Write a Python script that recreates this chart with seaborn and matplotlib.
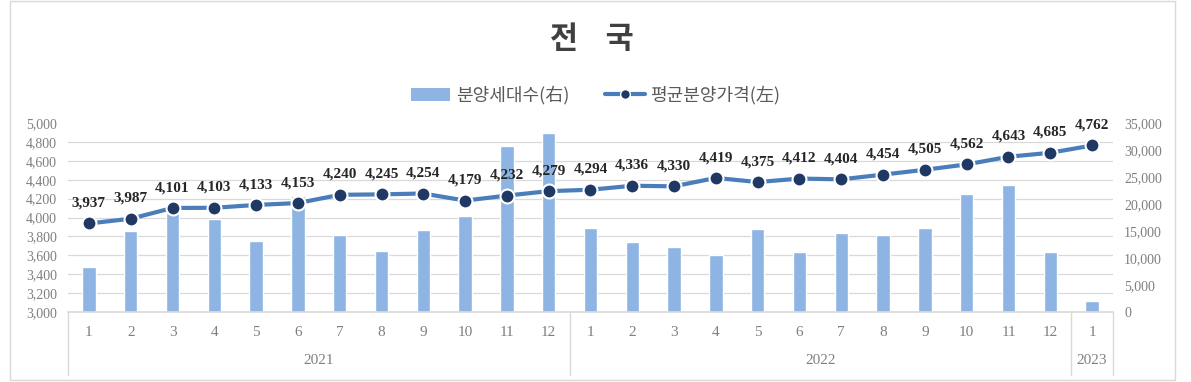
import numpy as np
import pandas as pd
import matplotlib
matplotlib.use('Agg')
import matplotlib.pyplot as plt
import matplotlib.transforms as mtransforms
from matplotlib.lines import Line2D
from matplotlib.patches import Patch, Rectangle
from matplotlib.ticker import FuncFormatter
import seaborn as sns

# 월 / 연도 (2021.1 ~ 2023.1)
months = ['1', '2', '3', '4', '5', '6', '7', '8', '9', '10', '11', '12',
          '1', '2', '3', '4', '5', '6', '7', '8', '9', '10', '11', '12',
          '1']
years = ['2021', '2022', '2023']
year_counts = [12, 12, 1]

# 평균분양가격(좌축)
price = [3937, 3987, 4101, 4103, 4133, 4153, 4240, 4245, 4254, 4179, 4232, 4279,
         4294, 4336, 4330, 4419, 4375, 4412, 4404, 4454, 4505, 4562, 4643, 4685,
         4762]

# 분양세대수(우축) - 그림에서 읽은 추정값
units = [8400, 15000, 18400, 17200, 13100, 21500, 14300, 11300, 15200, 17800, 30800, 33100,
         15600, 13000, 12100, 10500, 15400, 11200, 14700, 14300, 15600, 21800, 23500, 11200,
         2000]

df = pd.DataFrame({'idx': np.arange(len(months)), 'month': months,
                   'price': price, 'units': units})

sns.set_theme(style='white')
plt.rcParams['font.family'] = ['Liberation Serif', 'DejaVu Serif']
kr = ['Noto Sans CJK KR', 'DejaVu Sans']

bar_c = '#8db4e2'
line_c = '#4a7ebb'
mark_c = '#1f3864'
tick_c = '#7f7f7f'
grid_c = '#d9d9d9'

fig = plt.figure(figsize=(11.91, 3.82), dpi=100)
ax = fig.add_axes([0.0571, 0.1832, 0.8774, 0.4948])
ax2 = ax.twinx()

# 막대 (우축)
sns.barplot(data=df, x='idx', y='units', ax=ax2, color=bar_c, width=0.32,
            saturation=1, zorder=2)
ax2.set_ylim(0, 35000)
ax2.set_yticks(np.arange(0, 35001, 5000))
ax2.set_yticks(np.linspace(0, 35000, 11), minor=True)
ax2.yaxis.set_major_formatter(FuncFormatter(lambda v, p: f'{int(v):,}'))
ax2.grid(False)
ax2.grid(True, which='minor', axis='y', color=grid_c, lw=0.9)
ax2.set_axisbelow(True)
ax2.set_ylabel('')
ax2.tick_params(axis='y', which='both', length=0, pad=8, labelsize=10, colors=tick_c)

# 꺾은선 (좌축)
ax.set_zorder(ax2.get_zorder() + 1)
ax.patch.set_visible(False)
sns.lineplot(data=df, x='idx', y='price', ax=ax, color=line_c, lw=3,
             marker='o', markersize=10, markerfacecolor=mark_c,
             markeredgecolor='white', markeredgewidth=1.5)
ax.set_ylim(3000, 5000)
ax.set_yticks(np.arange(3000, 5001, 200))
ax.yaxis.set_major_formatter(FuncFormatter(lambda v, p: f'{int(v):,}'))
ax.set_xlim(-0.5, len(months) - 0.5)
ax.set_xticks(df['idx'])
ax.set_xticklabels(months)
ax.tick_params(axis='x', length=0, pad=10, labelsize=11, colors=tick_c)
ax.tick_params(axis='y', length=0, pad=8, labelsize=10, colors=tick_c)
ax.set_xlabel('')
ax.set_ylabel('')
ax.grid(False)
ax2.set_xlim(-0.5, len(months) - 0.5)

for a in (ax, ax2):
    for s in a.spines.values():
        s.set_visible(False)
ax.spines['bottom'].set_visible(True)
ax.spines['bottom'].set_color(grid_c)

for i, v in enumerate(price):
    ax.annotate(f'{v:,}', (i, v), xytext=(0, 10), textcoords='offset points',
                ha='center', va='bottom', fontsize=11, fontweight='bold',
                color='#262626')

# 연도 구분
trans = mtransforms.blended_transform_factory(ax.transData, ax.transAxes)
edges = np.concatenate([[0], np.cumsum(year_counts)]) - 0.5
for e in edges:
    ax.plot([e, e], [0, -0.335], transform=trans, color=grid_c, lw=1, clip_on=False)
for k, y in enumerate(years):
    ax.text((edges[k] + edges[k + 1]) / 2, -0.255, y, transform=trans,
            ha='center', va='center', fontsize=11, color=tick_c)

# 제목, 범례
fig.text(0.497, 0.898, '전    국', ha='center', va='center', fontsize=22,
         fontweight='bold', color='#404040', family=kr)
handles = [Patch(facecolor=bar_c, edgecolor='none'),
           Line2D([0], [0], color=line_c, lw=3, marker='o', markersize=7,
                  markerfacecolor=mark_c, markeredgecolor='white')]
fig.legend(handles, ['분양세대수(右)', '평균분양가격(左)'], loc='center',
           bbox_to_anchor=(0.5, 0.751), ncol=2, frameon=False,
           prop={'family': kr, 'size': 13}, labelcolor='#595959',
           handlelength=2.2, columnspacing=2.0, handletextpad=0.3)

fig.patches.append(Rectangle((0.0084, 0.005), 0.9782, 0.992, transform=fig.transFigure,
                             fill=False, edgecolor=grid_c, lw=1))

fig.savefig('out.png', dpi=100, facecolor='white')
